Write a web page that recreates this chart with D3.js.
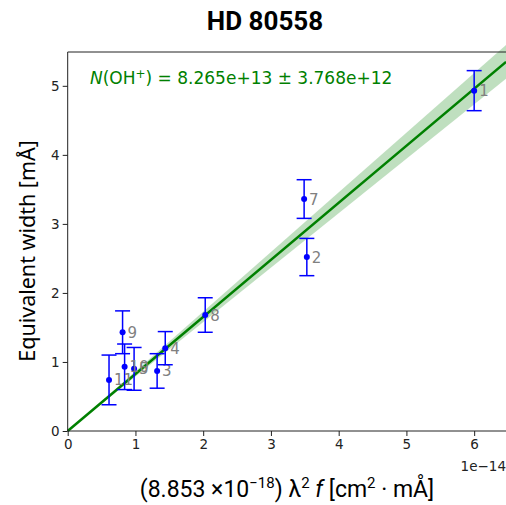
<!DOCTYPE html>
<html>
<head>
<meta charset="utf-8">
<script src="https://cdn.jsdelivr.net/npm/d3@7"></script>
<style>
  body { margin: 0; background: #fff; }
  svg { display: block; }
  .tick text { font-family: "DejaVu Sans", sans-serif; font-size: 13.5px; fill: #222; }
</style>
</head>
<body>
<svg id="chart" width="506" height="505"></svg>
<script>
// line ids, x in units of 1e-14, W in mÅ, error in mÅ
const ids   = ['1', '2', '3', '4', '5', '7', '8', '9', '10', '11']
const xVals = [6.00, 3.53, 1.32, 1.44, 0.98, 3.49, 2.03, 0.81, 0.84, 0.61]
const yVals = [4.93, 2.52, 0.87, 1.20, 0.90, 3.36, 1.68, 1.43, 0.93, 0.74]
const yErr  = [0.29, 0.27, 0.25, 0.24, 0.31, 0.28, 0.25, 0.31, 0.33, 0.36]

const slope = 0.8265     // 8.265e13 * 1e-14
const slopeErr = 0.03768 // 3.768e12 * 1e-14

const xTicks = [0, 1, 2, 3, 4, 5, 6]
const yTicks = [0, 1, 2, 3, 4, 5]

const svg = d3.select('#chart')
const mLeft = 67.7, mRight = 506, mTop = 52, mBottom = 431

const x = d3.scaleLinear().domain([0, 6.47]).range([mLeft, mRight])
const y = d3.scaleLinear().domain([0, 5.49]).range([mBottom, mTop])

// fit band
const bandX = [0, 6.47]
svg.append('path')
  .datum(bandX)
  .attr('fill', 'green')
  .attr('fill-opacity', 0.25)
  .attr('d', d3.area()
    .x(d => x(d))
    .y0(d => y(d * (slope - slopeErr)))
    .y1(d => y(d * (slope + slopeErr))))

svg.append('path')
  .datum(bandX)
  .attr('fill', 'none')
  .attr('stroke', 'green')
  .attr('stroke-width', 2.5)
  .attr('d', d3.line().x(d => x(d)).y(d => y(d * slope)))

// error bars
const pts = ids.map((id, i) => ({ id, x: xVals[i], y: yVals[i], e: yErr[i] }))
const g = svg.append('g').selectAll('g').data(pts).join('g')
g.append('line')
  .attr('x1', d => x(d.x)).attr('x2', d => x(d.x))
  .attr('y1', d => y(d.y - d.e)).attr('y2', d => y(d.y + d.e))
  .attr('stroke', 'blue').attr('stroke-width', 1.5)
;[-1, 1].forEach(s => {
  g.append('line')
    .attr('x1', d => x(d.x) - 7.5).attr('x2', d => x(d.x) + 7.5)
    .attr('y1', d => y(d.y + s * d.e)).attr('y2', d => y(d.y + s * d.e))
    .attr('stroke', 'blue').attr('stroke-width', 1.5)
})
g.append('circle')
  .attr('cx', d => x(d.x)).attr('cy', d => y(d.y))
  .attr('r', 3).attr('fill', 'blue')
g.append('text')
  .attr('x', d => x(d.x) + 5).attr('y', d => y(d.y) + 5.5)
  .attr('fill', 'grey')
  .attr('font-family', 'DejaVu Sans, sans-serif')
  .attr('font-size', 15)
  .text(d => d.id)

// axes
svg.append('g')
  .attr('transform', `translate(0,${mBottom})`)
  .call(d3.axisBottom(x).tickValues(xTicks).tickFormat(d3.format('d')).tickSizeOuter(0).tickSize(5).tickPadding(3))
svg.append('g')
  .attr('transform', `translate(${mLeft},0)`)
  .call(d3.axisLeft(y).tickValues(yTicks).tickFormat(d3.format('d')).tickSizeOuter(0).tickSize(5).tickPadding(3))
svg.selectAll('.domain').remove()
svg.selectAll('.tick line').attr('stroke', '#222')

// spines
svg.append('path')
  .attr('d', `M${mRight},${mTop}H${mLeft}V${mBottom}H${mRight}`)
  .attr('fill', 'none').attr('stroke', '#222').attr('stroke-width', 1)

// texts
svg.append('text')
  .attr('x', 265).attr('y', 30)
  .attr('text-anchor', 'middle')
  .attr('font-family', 'Roboto, sans-serif')
  .attr('font-weight', 'bold').attr('font-size', 26)
  .text('HD 80558')

const ann = svg.append('text')
  .attr('x', 90).attr('y', 84)
  .attr('fill', 'green')
  .attr('font-family', 'DejaVu Sans, sans-serif')
  .attr('font-size', 17)
ann.append('tspan').attr('font-style', 'italic').text('N')
ann.append('tspan').text('(OH')
ann.append('tspan').attr('dy', -6).attr('font-size', 12).text('+')
ann.append('tspan').attr('dy', 6).text(') = 8.265e+13 ± 3.768e+12')

svg.append('text')
  .attr('x', 506).attr('y', 471)
  .attr('text-anchor', 'end')
  .attr('font-family', 'DejaVu Sans, sans-serif')
  .attr('font-size', 13.5).attr('fill', '#222')
  .text('1e\u221214')

const xl = svg.append('text')
  .attr('x', 287).attr('y', 497)
  .attr('text-anchor', 'middle')
  .attr('font-family', 'Roboto, sans-serif')
  .attr('font-size', 23)
xl.append('tspan').text('(8.853 ×10')
xl.append('tspan').attr('dy', -9).attr('font-size', 15).text('\u221218')
xl.append('tspan').attr('dy', 9).text(') λ')
xl.append('tspan').attr('dy', -9).attr('font-size', 15).text('2')
xl.append('tspan').attr('dy', 9).text(' ')
xl.append('tspan').attr('font-style', 'italic').text('f')
xl.append('tspan').text(' [cm')
xl.append('tspan').attr('dy', -9).attr('font-size', 15).text('2')
xl.append('tspan').attr('dy', 9).text(' · mÅ]')

svg.append('text')
  .attr('transform', 'translate(35,251) rotate(-90)')
  .attr('text-anchor', 'middle')
  .attr('font-family', 'Noto Sans, sans-serif')
  .attr('font-size', 21.5)
  .text('Equivalent width [mÅ]')
</script>
</body>
</html>
